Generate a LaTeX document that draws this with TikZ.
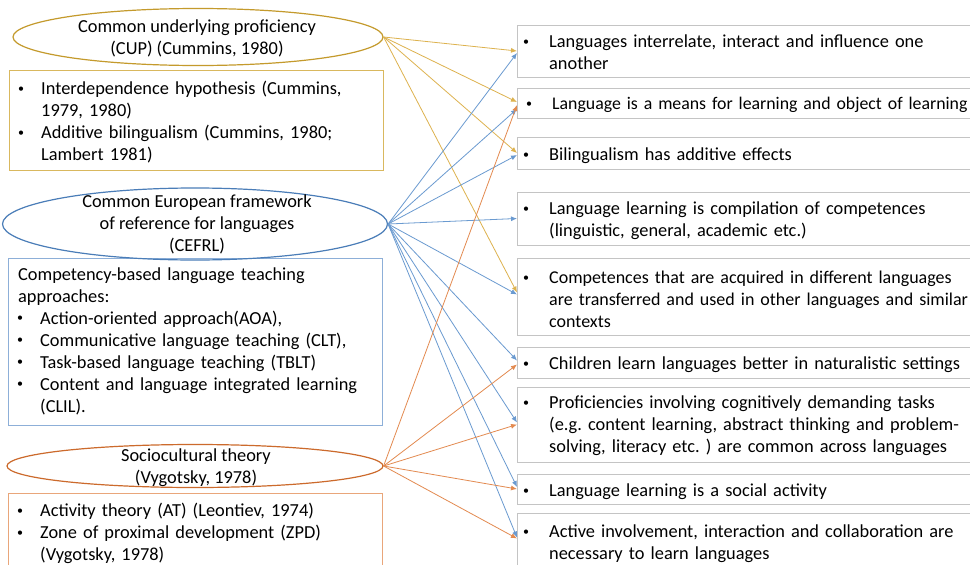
\documentclass[tikz,border=0pt]{standalone}
\usepackage{fontspec}
\setmainfont{Carlito}
\usetikzlibrary{shapes.geometric,arrows.meta}
\definecolor{cupE}{HTML}{C49A2C}
\definecolor{cupB}{HTML}{D9B85E}
\definecolor{cupL}{HTML}{DDB24E}
\definecolor{cefE}{HTML}{4A7DB8}
\definecolor{cefB}{HTML}{8DAFD8}
\definecolor{cefL}{HTML}{6A9AD0}
\definecolor{socE}{HTML}{CC6A2C}
\definecolor{socB}{HTML}{E9A67A}
\definecolor{socL}{HTML}{E38A50}
\definecolor{rgray}{HTML}{C4C4C4}
\newcommand\smbul{{\fontsize{12}{12}\selectfont\raisebox{2.2pt}{\textbullet}}}
\newcommand\ritem[1]{\par\noindent\hangindent=32pt\hangafter=1\makebox[32pt][l]{\hspace{6pt}\smbul}#1\par}
\newcommand\litem[1]{\par\noindent\hangindent=32pt\hangafter=1\makebox[32pt][l]{\hspace{9pt}\smbul}#1\par}
\begin{document}
\frenchspacing
\begin{tikzpicture}[x=1pt,y=-1pt,
  txt/.style={font=\fontsize{18.35}{22}\selectfont\frenchspacing},
  rbox/.style={draw=rgray, line width=0.9pt, anchor=west, inner sep=0pt, minimum width=520pt},
  rtext/.style={txt, anchor=west, inner sep=0pt, text width=520pt},
  lbox/.style={line width=0.9pt, anchor=west, inner sep=0pt, minimum width=374pt},
  ltext/.style={txt, anchor=west, inner sep=0pt, text width=374pt},
  ell/.style={ellipse, line width=1.2pt, inner sep=0pt},
  etext/.style={txt, align=center, inner sep=0pt},
  conn/.style={line width=0.8pt, -{Latex[length=6pt,width=5pt]}}
]
\clip (0,0) rectangle (970,565);
\fill[white] (0,0) rectangle (970,565);

% right boxes
\node[rbox, minimum height=52] (b1) at (517,51) {};
\node[rtext] (t1) at ([yshift=3pt]b1.west) {\ritem{Languages interrelate, interact and influence one\newline another}};
\node[rbox, minimum height=30] (b2) at (517,103) {};
\node[rtext, font=\fontsize{17.8}{22}\selectfont\frenchspacing, xshift=3pt] (t2) at ([yshift=3pt]b2.west) {\ritem{Language is a means for learning and object of learning}};
\node[rbox, minimum height=32] (b3) at (517,153) {};
\node[rtext] (t3) at ([yshift=2pt]b3.west) {\ritem{Bilingualism has additive effects}};
\node[rbox, minimum height=53] (b4) at (517,218.5) {};
\node[rtext] (t4) at ([yshift=2.5pt]b4.west) {\ritem{Language learning is compilation of competences\newline (linguistic, general, academic etc.)}};
\node[rbox, minimum height=77] (b5) at (517,296.5) {};
\node[rtext, font=\fontsize{18}{22}\selectfont\frenchspacing] (t5) at ([yshift=2pt]b5.west) {\ritem{Competences that are acquired in different languages\newline are transferred and used in other languages and similar\newline contexts}};
\node[rbox, minimum height=31] (b6) at (517,362.5) {};
\node[rtext] (t6) at ([yshift=2pt]b6.west) {\ritem{Children learn languages better in naturalistic settings}};
\node[rbox, minimum height=75] (b7) at (517,424.5) {};
\node[rtext] (t7) at ([yshift=3.5pt]b7.west) {\ritem{Proficiencies involving cognitively demanding tasks\newline (e.g. content learning, abstract thinking and problem-\newline solving, literacy etc. ) are common across languages}};
\node[rbox, minimum height=30] (b8) at (517,489) {};
\node[rtext] (t8) at ([yshift=2pt]b8.west) {\ritem{Language learning is a social activity}};
\node[rbox, minimum height=59] (b9) at (517,542.5) {};
\node[rtext] (t9) at ([yshift=3pt]b9.west) {\ritem{Active involvement, interaction and collaboration are\newline necessary to learn languages}};

% left boxes
\node[lbox, draw=cupB, minimum height=100] (cupbox) at (9,120) {};
\node[ltext] (cupboxT) at ([yshift=2pt]cupbox.west) {\litem{Interdependence hypothesis (Cummins,\newline 1979, 1980)}\litem{Additive bilingualism (Cummins, 1980;\newline Lambert 1981)}};
\node[lbox, draw=cefB, minimum height=167] (cefbox) at (8,341.5) {};
\node[ltext] (cefboxT) at ([yshift=0.5pt]cefbox.west) {\noindent\hspace*{10pt}Competency-based language teaching\newline \hspace*{10pt}approaches:\par\litem{Action-oriented approach(AOA),}\litem{Communicative language teaching (CLT),}\litem{Task-based language teaching (TBLT)}\litem{Content and language integrated learning\newline (CLIL).}};
\node[lbox, draw=socB, minimum height=77] (socbox) at (8,531.5) {};
\node[ltext] (socboxT) at ([yshift=2pt]socbox.west) {\litem{Activity theory (AT) (Leontiev, 1974)}\litem{Zone of proximal development (ZPD)\newline (Vygotsky, 1978)}};

% ellipses
\node[ell, draw=cupE, minimum width=370, minimum height=57] (cup) at (198,37) {};
\node[etext] (cupT) at (197,38.5) {Common underlying proficiency\\(CUP) (Cummins, 1980)};
\node[ell, draw=cefE, minimum width=385, minimum height=72] (cef) at (195,224) {};
\node[etext] (cefT) at (197,224) {Common European framework\\of reference for languages\\(CEFRL)};
\node[ell, draw=socE, minimum width=376, minimum height=43] (soc) at (195,466) {};
\node[etext] (socT) at (196,467.5) {Sociocultural theory\\(Vygotsky, 1978)};

% connectors CUP
\draw[conn, cupL] (cup.east) -- (b1.west);
\draw[conn, cupL] (cup.east) -- ([yshift=1pt]b2.west);
\draw[conn, cupL] (cup.east) -- (b3.west);
\draw[conn, cupL] (cup.east) -- ([yshift=4pt]b5.west);
% connectors CEFRL
\draw[conn, cefL] (cef.east) -- ([yshift=-2pt]b1.west);
\draw[conn, cefL] (cef.east) -- ([yshift=-6pt]b2.west);
\draw[conn, cefL] (cef.east) -- ([yshift=-2pt]b3.west);
\draw[conn, cefL] (cef.east) -- (b4.west);
\draw[conn, cefL] (cef.east) -- ([yshift=2pt]b5.west);
\draw[conn, cefL] (cef.east) -- ([yshift=2pt]b6.west);
\draw[conn, cefL] (cef.east) -- ([yshift=2pt]b7.west);
\draw[conn, cefL] (cef.east) -- ([yshift=2pt]b8.west);
\draw[conn, cefL] (cef.east) -- ([yshift=5pt]b9.west);
% connectors Socio
\draw[conn, socL] (soc.east) -- ([yshift=-2pt]b2.west);
\draw[conn, socL] (soc.east) -- ([yshift=-2pt]b6.west);
\draw[conn, socL] (soc.east) -- (b7.west);
\draw[conn, socL] (soc.east) -- (b8.west);
\draw[conn, socL] (soc.east) -- ([yshift=4pt]b9.west);
\end{tikzpicture}
\end{document}
